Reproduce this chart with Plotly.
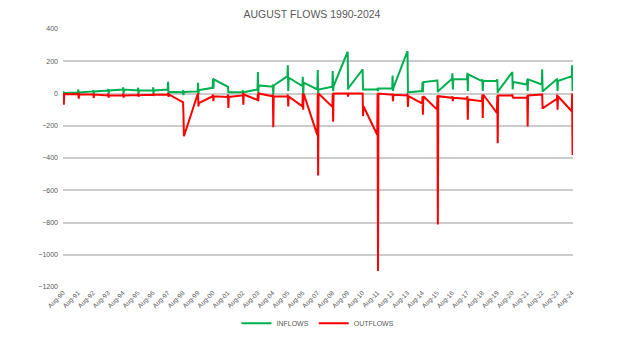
import plotly.graph_objects as go

# August flows by year: first day, daily high, daily low, last day of the month
years = list(range(1990, 2025))

inflow_first = [4, 6, 13, 19, 25, 19, 19, 25, 8, 13, 35, 42, 8, 25, 42, 108, 46, 25, 42, 254,
                146, 25, 31, 258, 15, 81, 92, 88, 77, 77, 129, 56, 56, 88, 108]
inflow_high = [13, 25, 21, 28, 38, 36, 38, 72, 20, 67, 92, 42, 20, 133, 56, 175, 104, 146, 140, 254,
               146, 35, 112, 258, 71, 81, 125, 129, 88, 88, 129, 88, 150, 88, 175]
inflow_low = [-10, -15, -4, 0, 0, 0, 0, 0, -10, -6, 29, 4, -5, 4, -6, 15, -17, 0, 15, 25,
              21, 15, 15, 8, 8, 8, 25, 15, 15, 4, 25, 15, 15, 15, 15]
inflow_last = [4, 6, 13, 19, 25, 19, 19, 10, 10, 21, 88, 8, 8, 50, 50, 98, 67, 25, 46, 35,
               25, 31, 35, 8, 71, 15, 88, 119, 77, 15, 71, 88, 15, 77, 108]

outflow_first = [-3, -4, -6, -12, -12, -10, -8, -6, -53, -5, -17, -21, -12, -40, -17, -19, -80, -258, -83, 0,
                 0, -256, -8, -12, -62, -100, -27, -33, -48, -121, -12, -27, -6, -33, -110]
outflow_high = [0, 4, 0, 0, 0, 0, 0, 4, -49, -5, -6, -6, 4, 0, -6, -6, 0, 0, 0, 0,
                0, 0, 0, 0, -17, -12, -17, -17, -6, -12, -6, -12, -6, -6, 0]
outflow_low = [-70, -32, -28, -25, -25, -20, -15, -21, -138, -80, -48, -90, -69, -48, -210, -80, -100, -508, -175, -20,
               -140, -1100, -48, -83, -131, -813, -48, -162, -152, -308, -20, -204, -90, -100, -382]
outflow_last = [-3, -4, -6, -12, -12, -10, -8, -6, -265, -60, -17, -21, -6, 0, -17, -19, 0, 0, 0, 0,
                -79, 0, -8, -17, -17, -17, -27, -37, -6, -12, -27, -12, -90, -17, -110]

tick_labels = [f"Aug-{y % 100:02d}" for y in years]
tick_dates = [f"{y}-08-01" for y in years]

# Daily readings inside each August: 1st, 10th, 20th, 31st
days = ["01", "10", "20", "31"]


def build_series(first, high, low, last):
    xs, ys = [], []
    for i, y in enumerate(years):
        for d, v in zip(days, (first[i], high[i], low[i], last[i])):
            xs.append(f"{y}-08-{d}")
            ys.append(v)
    return xs, ys


x_in, y_in = build_series(inflow_first, inflow_high, inflow_low, inflow_last)
x_out, y_out = build_series(outflow_first, outflow_high, outflow_low, outflow_last)

fig = go.Figure()
fig.add_trace(go.Scatter(x=x_in, y=y_in, mode="lines", name="INFLOWS",
                         line=dict(color="#00B050", width=2)))
fig.add_trace(go.Scatter(x=x_out, y=y_out, mode="lines", name="OUTFLOWS",
                         line=dict(color="#FF0000", width=2)))

font_family = "Liberation Sans, Arial, sans-serif"
grey = "#595959"

fig.update_layout(
    width=624, height=338,
    margin=dict(l=63, r=51, t=29, b=51, autoexpand=False),
    paper_bgcolor="white", plot_bgcolor="white",
    title=dict(text="AUGUST FLOWS 1990-2024", x=0.5, xanchor="center", y=0.958, yanchor="middle",
               font=dict(family=font_family, size=10.5, color=grey)),
    font=dict(family=font_family, color=grey),
    showlegend=True,
    legend=dict(orientation="h", x=0.5, xanchor="center",
                yref="container", y=0.044, yanchor="middle",
                font=dict(size=7, color=grey), itemwidth=30, tracegroupgap=0),
    xaxis=dict(
        type="date", automargin=False,
        range=["1990-08-01", "2024-08-31"],
        tickmode="array", tickvals=tick_dates, ticktext=tick_labels,
        tickangle=-45, tickfont=dict(size=6.5, color=grey),
        showgrid=False, showline=False, zeroline=False, ticks="",
    ),
    yaxis=dict(
        automargin=False,
        range=[-1200, 400], tickmode="array", tickvals=list(range(-1200, 401, 200)),
        tickfont=dict(size=7, color=grey),
        showgrid=True, gridcolor="#CCCCCC", gridwidth=1.5,
        zeroline=True, zerolinecolor="#CCCCCC", zerolinewidth=1.5,
        showline=False, ticks="", ticklabelstandoff=4,
    ),
)

fig.write_html("out.html")
